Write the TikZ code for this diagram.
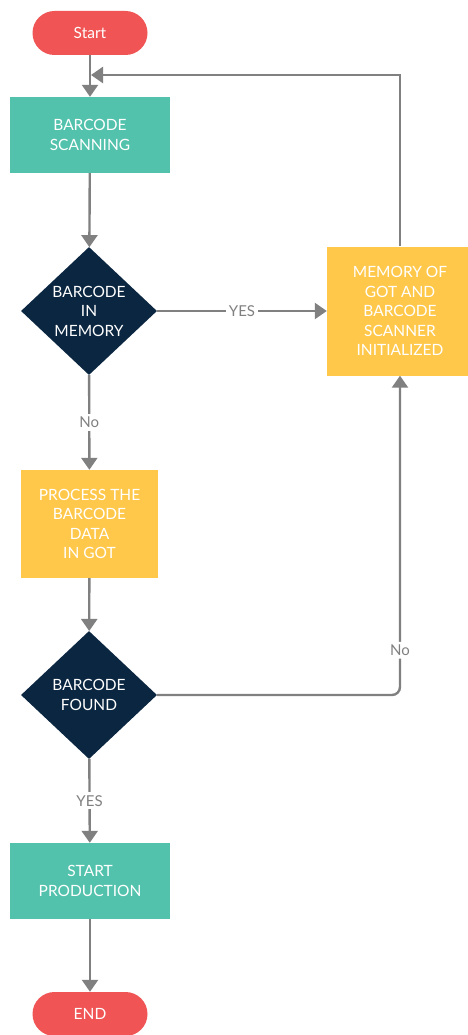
\documentclass[tikz,border=0pt]{standalone}
\usepackage{fontspec}
\setmainfont{Lato}
\usepackage{xcolor}
\usetikzlibrary{shapes.geometric, arrows.meta, positioning}

\definecolor{startred}{HTML}{F05454}
\definecolor{stepteal}{HTML}{52C2AC}
\definecolor{decnavy}{HTML}{0B2640}
\definecolor{procyellow}{HTML}{FFC84A}
\definecolor{linegray}{HTML}{808080}

\begin{document}
\begin{tikzpicture}[
    x=1pt, y=-1pt,
    terminal/.style={rectangle, fill=startred, rounded corners=22pt, minimum width=115pt, minimum height=44pt, text=white, font=\fontsize{15.5}{19.5}\selectfont},
    stepbox/.style={rectangle, fill=stepteal, minimum width=160pt, minimum height=76pt, align=center, text=white, font=\fontsize{15.5}{19.5}\selectfont},
    process/.style={rectangle, fill=procyellow, align=center, text=white, font=\fontsize{15.5}{19.5}\selectfont},
    decision/.style={diamond, fill=decnavy, inner sep=0pt, aspect=1.06, minimum width=136pt, minimum height=128pt, align=center, text=white, font=\fontsize{15.5}{19.5}\selectfont},
    arrow/.style={line width=2.4pt, draw=linegray, -{Triangle[width=16pt, length=12pt]}},
    tag/.style={fill=white, text=linegray, inner sep=3pt, font=\fontsize{15}{18}\selectfont}
]
    \path[fill=white, use as bounding box] (0,0) rectangle (467,1035);

    \node (start) [terminal] at (90,33) {Start};
    \node (scan) [stepbox] at (90,135) {BARCODE\\SCANNING};
    \node (inmem) [decision] at (89,311) {BARCODE\\IN\\MEMORY};
    \node (memory) [process, minimum width=146pt, minimum height=129pt] at (400,311) {MEMORY OF\\GOT AND\\BARCODE\\SCANNER\\INITIALIZED};
    \node (proc) [process, minimum width=137pt, minimum height=108pt] at (89.5,524) {PROCESS THE\\BARCODE\\DATA\\IN GOT};
    \node (found) [decision] at (89,695) {BARCODE\\FOUND};
    \node (prod) [stepbox] at (90,881) {START\\PRODUCTION};
    \node (end) [terminal] at (90,1014) {END};

    \coordinate (join) at (91,75);

    \draw [arrow] (start) -- (scan);
    \draw [arrow] (scan) -- (inmem);
    \draw [arrow] (inmem) -- node[tag] {YES} (memory);
    \draw [arrow] (inmem) -- node[tag] {No} (proc);
    \draw [arrow] (proc) -- (found);
    \draw [arrow] (found) -- node[tag] {YES} (prod);
    \draw [arrow] (prod) -- (end);

    \draw [arrow] (memory.north) |- (join);
    \draw [arrow, rounded corners=8pt] (found.east) -| node[tag, pos=0.57] {No} (memory.south);
\end{tikzpicture}
\end{document}
